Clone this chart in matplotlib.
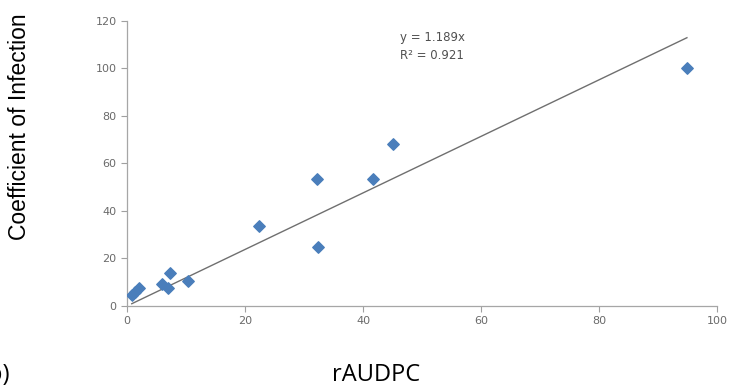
import matplotlib.pyplot as plt
import numpy as np

# values
raudpc = [0.8, 1.3, 2.0, 5.9, 7.0, 7.2, 10.4, 22.3, 32.2, 32.3, 41.7, 45.1, 94.9]
coef_inf = [4.8, 6.0, 7.4, 9.3, 7.4, 14.0, 10.6, 33.6, 53.3, 24.7, 53.3, 68.1, 100.0]
slope = 1.189
r2 = 0.921

x_ticks = [0, 20, 40, 60, 80, 100]
y_ticks = [0, 20, 40, 60, 80, 100, 120]

fig = plt.figure(figsize=(7.36, 3.91), dpi=100)
ax = fig.add_axes([0.1726, 0.2174, 0.8016, 0.7297])

ax.scatter(raudpc, coef_inf, marker='D', s=34, color='#4a7ebb', zorder=3)

line_x = np.array([min(raudpc), max(raudpc)])
ax.plot(line_x, slope * line_x, color='#6f6f6f', lw=1.0, zorder=2)

ax.text(0.462, 0.965, "y = %.3fx\nR² = %.3f" % (slope, r2), transform=ax.transAxes,
        fontsize=8.5, color='#505050', va='top', ha='left', linespacing=1.55)

ax.set_xlim(0, 100)
ax.set_ylim(0, 120)
ax.set_xticks(x_ticks)
ax.set_yticks(y_ticks)
ax.tick_params(labelsize=8, colors='#a0a0a0', labelcolor='#6a6a6a', length=4, width=0.8)
for side in ['top', 'right']:
    ax.spines[side].set_visible(False)
for side in ['left', 'bottom']:
    ax.spines[side].set_color('#a6a6a6')
    ax.spines[side].set_linewidth(0.9)

fig.text(20 / 736, 1 - 127 / 391, "Coefficient of Infection", rotation=90,
         ha='center', va='center', fontsize=16.5, family='Liberation Sans')
fig.text(376 / 736, 1 - 375 / 391, "rAUDPC", ha='center', va='center',
         fontsize=17, family='Open Sans')
fig.text(10 / 736, 1 - 375 / 391, "(b)", ha='right', va='center',
         fontsize=17, family='Open Sans')

plt.savefig("out.png", dpi=100)
